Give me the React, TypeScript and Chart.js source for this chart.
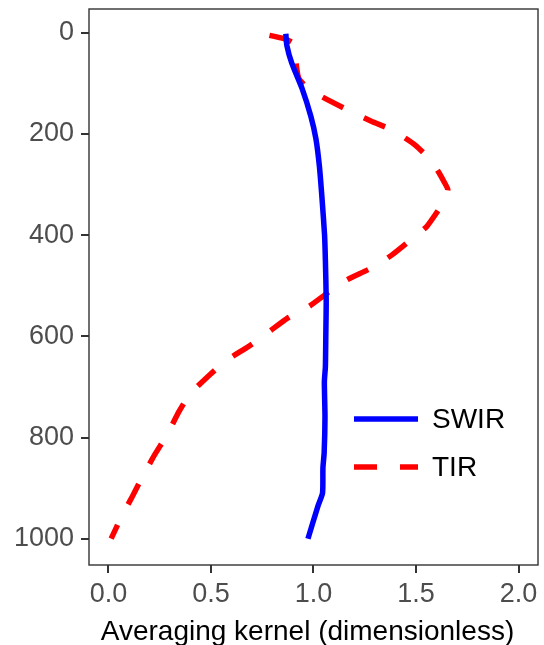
import React, { useEffect, useRef } from "react";
import { Chart, registerables } from "chart.js";

Chart.register(...registerables);

// ---- data ----
const seriesNames = ["SWIR", "TIR"];

const swirPressure = [2, 25, 60, 110, 165, 210, 265, 330, 400, 450, 530, 600, 660, 690, 760, 830, 860, 910, 935, 1000];
const swirValue = [0.865, 0.870, 0.894, 0.944, 0.987, 1.012, 1.029, 1.042, 1.054, 1.058, 1.062, 1.060, 1.058, 1.053, 1.056, 1.052, 1.046, 1.044, 1.022, 0.973];

const tirPressure = [5, 12, 22, 45, 70, 90, 105, 125, 152, 175, 192, 221, 251, 275, 294, 310, 330, 350, 383, 406, 439, 465, 488, 511, 541, 563, 593, 620, 646, 675, 715, 748, 794, 833, 876, 916, 961, 1000];
const tirValue = [0.785, 0.86, 0.905, 0.912, 0.918, 0.928, 0.96, 1.035, 1.164, 1.282, 1.383, 1.493, 1.569, 1.61, 1.636, 1.655, 1.64, 1.61, 1.552, 1.484, 1.383, 1.282, 1.164, 1.079, 0.978, 0.877, 0.776, 0.683, 0.582, 0.497, 0.396, 0.345, 0.286, 0.227, 0.168, 0.117, 0.058, 0.013];

const yTicks = [0, 200, 400, 600, 800, 1000];
const xTicks = [0, 0.5, 1.0, 1.5, 2.0];
const xTitle = "Averaging kernel (dimensionless)";

const FONT = '"Liberation Sans", Arial, Helvetica, sans-serif';

export default function App() {
  const ref = useRef<HTMLCanvasElement>(null);

  useEffect(() => {
    const canvas = ref.current;
    if (!canvas) return;

    const panelBorder = {
      id: "panelBorder",
      afterDatasetsDraw(chart: any) {
        const { ctx, chartArea: a } = chart;
        ctx.save();
        ctx.strokeStyle = "#333333";
        ctx.lineWidth = 1.4;
        ctx.strokeRect(a.left, a.top, a.right - a.left, a.bottom - a.top);
        ctx.restore();
      },
    };

    const axisTitle = {
      id: "axisTitle",
      afterDraw(chart: any) {
        const ctx = chart.ctx;
        ctx.save();
        ctx.fillStyle = "#000000";
        ctx.font = `28px ${FONT}`;
        ctx.textAlign = "center";
        ctx.textBaseline = "alphabetic";
        ctx.fillText(xTitle, 307.5, 640);
        ctx.restore();
      },
    };

    const insideLegend = {
      id: "insideLegend",
      afterDatasetsDraw(chart: any) {
        const ctx = chart.ctx;
        const x0 = 354, x1 = 418, textX = 432;
        const ys = [419, 467];
        chart.data.datasets.forEach((ds: any, i: number) => {
          ctx.save();
          ctx.strokeStyle = ds.borderColor;
          ctx.lineWidth = ds.borderWidth;
          ctx.lineCap = "butt";
          ctx.setLineDash(ds.borderDash || []);
          ctx.beginPath();
          ctx.moveTo(x0, ys[i]);
          ctx.lineTo(x1, ys[i]);
          ctx.stroke();
          ctx.setLineDash([]);
          ctx.fillStyle = "#000000";
          ctx.font = `28px ${FONT}`;
          ctx.textBaseline = "middle";
          ctx.textAlign = "left";
          ctx.fillText(ds.label, textX, ys[i] + 1);
          ctx.restore();
        });
      },
    };

    const chart = new Chart(canvas, {
      type: "scatter",
      data: {
        datasets: [
          {
            label: seriesNames[0],
            data: swirPressure.map((p, i) => ({ x: swirValue[i], y: p })),
            showLine: true,
            borderColor: "#0000ff",
            backgroundColor: "#0000ff",
            borderWidth: 5.5,
            pointRadius: 0,
            tension: 0.2,
            borderCapStyle: "butt",
            borderJoinStyle: "round",
          },
          {
            label: seriesNames[1],
            data: tirPressure.map((p, i) => ({ x: tirValue[i], y: p })),
            showLine: true,
            borderColor: "#ff0000",
            backgroundColor: "#ff0000",
            borderWidth: 5.5,
            borderDash: [23, 23],
            pointRadius: 0,
            tension: 0.2,
            borderCapStyle: "butt",
            borderJoinStyle: "round",
          },
        ],
      },
      options: {
        responsive: false,
        animation: false,
        layout: { padding: { left: 0, top: 9, right: 6, bottom: 0 } },
        plugins: {
          legend: { display: false },
          tooltip: { enabled: false },
        },
        scales: {
          x: {
            type: "linear",
            min: -0.095,
            max: 2.095,
            border: { display: false },
            grid: {
              drawOnChartArea: false,
              drawTicks: true,
              tickLength: 8,
              tickWidth: 2,
              tickColor: "#333333",
              lineWidth: 2,
              color: "#333333",
            },
            afterBuildTicks: (scale: any) => {
              scale.ticks = xTicks.map((v) => ({ value: v }));
            },
            afterFit: (scale: any) => {
              scale.height = 80;
              scale.paddingLeft = 0;
              scale.paddingRight = 0;
            },
            ticks: {
              color: "#4d4d4d",
              font: { family: FONT, size: 27 },
              padding: 5,
              maxRotation: 0,
              autoSkip: false,
              callback: (v: any) => Number(v).toFixed(1),
            },
            title: { display: false },
          },
          y: {
            type: "linear",
            reverse: true,
            min: -47,
            max: 1052,
            border: { display: false },
            grid: {
              drawOnChartArea: false,
              drawTicks: true,
              tickLength: 8,
              tickWidth: 2,
              tickColor: "#333333",
              lineWidth: 2,
              color: "#333333",
            },
            afterBuildTicks: (scale: any) => {
              scale.ticks = yTicks.map((v) => ({ value: v }));
            },
            afterFit: (scale: any) => {
              scale.width = 89;
              scale.paddingTop = 0;
              scale.paddingBottom = 0;
            },
            ticks: {
              color: "#4d4d4d",
              font: { family: FONT, size: 27 },
              padding: 7,
              autoSkip: false,
              callback: (v: any) => String(v),
            },
          },
        },
      },
      plugins: [panelBorder, insideLegend, axisTitle],
    } as any);

    return () => chart.destroy();
  }, []);

  return (
    <div style={{ position: "fixed", left: 0, top: 0, width: 544, height: 645, background: "#ffffff" }}>
      <canvas ref={ref} width={544} height={645} style={{ display: "block" }} />
    </div>
  );
}
